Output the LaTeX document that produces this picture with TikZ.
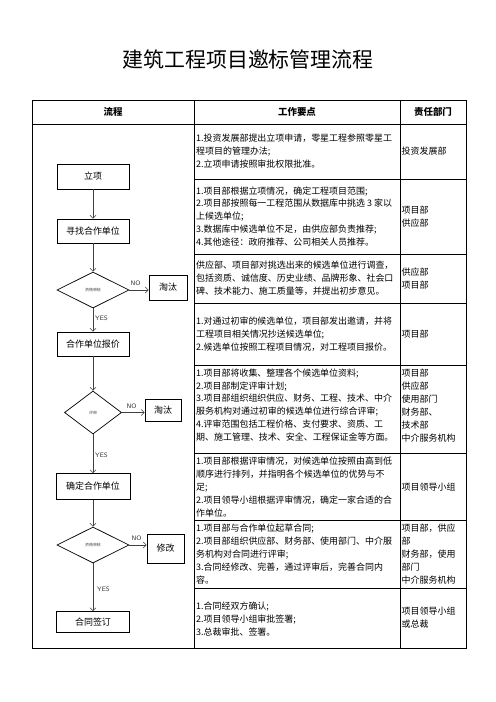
\documentclass[tikz,border=0pt]{standalone}
\usepackage{fontspec}
\setmainfont{Noto Sans CJK SC}
\newfontfamily\cjk{Noto Sans CJK SC}
\usetikzlibrary{shapes.geometric,arrows.meta}
\begin{document}
\begin{tikzpicture}[x=1bp,y=-1bp,
  cellline/.style={line width=0.8bp,black},
  flowbox/.style={draw=black,line width=0.7bp,inner sep=0,font=\cjk\fontsize{9}{11}\selectfont},
  decide/.style={draw=black,line width=0.7bp,diamond,inner sep=0,font=\cjk\fontsize{4}{5}\selectfont,text=black!70},
  flowarrow/.style={draw=black!75,line width=0.6bp,-{Straight Barb[length=3bp,width=6bp]}},
  lbl/.style={inner sep=0,font=\fontsize{6.5}{7}\selectfont\sffamily,text=black!80},
  hdr/.style={inner sep=0,font=\cjk\bfseries\fontsize{9.5}{11}\selectfont},
  celltext/.style={inner sep=0,anchor=west,align=left,font=\cjk\fontsize{9}{13}\selectfont},
]
\useasboundingbox (0,0) rectangle (496,702);
\fill[white] (0,0) rectangle (496,702);

% title
\node[inner sep=0,font=\cjk\fontsize{21}{24}\selectfont] (title) at (248,60) {建筑工程项目邀标管理流程};

% table lines
\draw[cellline] (32,100) rectangle (466,648);
\draw[cellline] (32,124) -- (466,124);
\draw[cellline] (194,100) -- (194,648);
\draw[cellline] (400,100) -- (400,648);
\foreach \yy in {179,254,303,365,453,520,588}
  \draw[cellline] (194,\yy) -- (466,\yy);

% headers
\node[hdr] (h1) at (113,112) {流程};
\node[hdr] (h2) at (297,112) {工作要点};
\node[hdr] (h3) at (433,112) {责任部门};

% middle column
\node[celltext] (w1) at (196,151.5) {1.投资发展部提出立项申请，零星工程参照零星工\\程项目的管理办法;\\2.立项申请按照审批权限批准。};
\node[celltext] (w2) at (196,216.5) {1.项目部根据立项情况，确定工程项目范围;\\2.项目部按照每一工程范围从数据库中挑选 3 家以\\上候选单位;\\3.数据库中候选单位不足，由供应部负责推荐;\\4.其他途径：政府推荐、公司相关人员推荐。};
\node[celltext] (w3) at (196,278.5) {供应部、项目部对挑选出来的候选单位进行调查，\\包括资质、诚信度、历史业绩、品牌形象、社会口\\碑、技术能力、施工质量等，并提出初步意见。};
\node[celltext] (w4) at (196,334) {1.对通过初审的候选单位，项目部发出邀请，并将\\工程项目相关情况抄送候选单位;\\2.候选单位按照工程项目情况，对工程项目报价。};
\node[celltext] (w5) at (196,405) {1.项目部将收集、整理各个候选单位资料;\\2.项目部制定评审计划;\\3.项目部组织组织供应、财务、工程、技术、中介\\服务机构对通过初审的候选单位进行综合评审;\\4.评审范围包括工程价格、支付要求、资质、工\\期、施工管理、技术、安全、工程保证金等方面。};
\node[celltext] (w6) at (196,487) {1.项目部根据评审情况，对候选单位按照由高到低\\顺序进行排列，并指明各个候选单位的优势与不\\足;\\2.项目领导小组根据评审情况，确定一家合适的合\\作单位。};
\node[celltext] (w7) at (196,554) {1.项目部与合作单位起草合同;\\2.项目部组织供应部、财务部、使用部门、中介服\\务机构对合同进行评审;\\3.合同经修改、完善，通过评审后，完善合同内\\容。};
\node[celltext] (w8) at (196,619) {1.合同经双方确认;\\2.项目领导小组审批签署;\\3.总裁审批、签署。};

% right column
\node[celltext] (r1) at (401.5,151.5) {投资发展部};
\node[celltext] (r2) at (401.5,216.5) {项目部\\供应部};
\node[celltext] (r3) at (401.5,278.5) {供应部\\项目部};
\node[celltext] (r4) at (401.5,334) {项目部};
\node[celltext] (r5) at (401.5,405.5) {项目部\\供应部\\使用部门\\财务部、\\技术部\\中介服务机构};
\node[celltext] (r6) at (401.5,487) {项目领导小组};
\node[celltext] (r7) at (401.5,554) {项目部，供应\\部\\财务部，使用\\部门\\中介服务机构};
\node[celltext] (r8) at (401.5,617.5) {项目领导小组\\或总裁};

% flow chart
\node[flowbox,minimum width=72bp,minimum height=25bp] (lx) at (93,176.5) {立项};
\node[flowbox,minimum width=72bp,minimum height=24bp] (xz) at (93,231) {寻找合作单位};
\node[decide,minimum width=72bp,minimum height=36bp] (d1) at (93,290) {资格审核};
\node[flowbox,minimum width=38bp,minimum height=25bp] (tt1) at (168,287.5) {淘汰};
\node[flowbox,minimum width=72bp,minimum height=24bp] (bj) at (93,344) {合作单位报价};
\node[decide,minimum width=57bp,minimum height=43bp] (d2) at (93,412.5) {评审};
\node[flowbox,minimum width=36bp,minimum height=22bp] (tt2) at (163,410) {淘汰};
\node[flowbox,minimum width=74bp,minimum height=26bp] (qd) at (93,486.5) {确定合作单位};
\node[decide,minimum width=72bp,minimum height=36bp] (d3) at (93,545) {资格审核};
\node[flowbox,minimum width=37bp,minimum height=29bp] (xg) at (165.5,548.5) {修改};
\node[flowbox,minimum width=73bp,minimum height=21bp] (ht) at (93,622) {合同签订};

\draw[flowarrow] (lx) -- (xz);
\draw[flowarrow] (xz) -- (d1);
\draw[flowarrow] (d1.east) -- (d1.east -| tt1.west);
\draw[flowarrow] (d1) -- (bj);
\draw[flowarrow] (bj) -- (d2);
\draw[flowarrow] (d2.east) -- (d2.east -| tt2.west);
\draw[flowarrow] (d2) -- (qd);
\draw[flowarrow] (qd) -- (d3);
\draw[flowarrow] (d3.east) -- (d3.east -| xg.west);
\draw[flowarrow] (d3) -- (ht);

\node[lbl] (no1) at (135.5,283) {NO};
\node[lbl] (no2) at (131.5,406) {NO};
\node[lbl] (no3) at (136.5,538.5) {NO};
\node[lbl,anchor=west] (yes1) at (95,318) {YES};
\node[lbl,anchor=west] (yes2) at (95,455) {YES};
\node[lbl,anchor=west] (yes3) at (97,589) {YES};
\end{tikzpicture}
\end{document}
